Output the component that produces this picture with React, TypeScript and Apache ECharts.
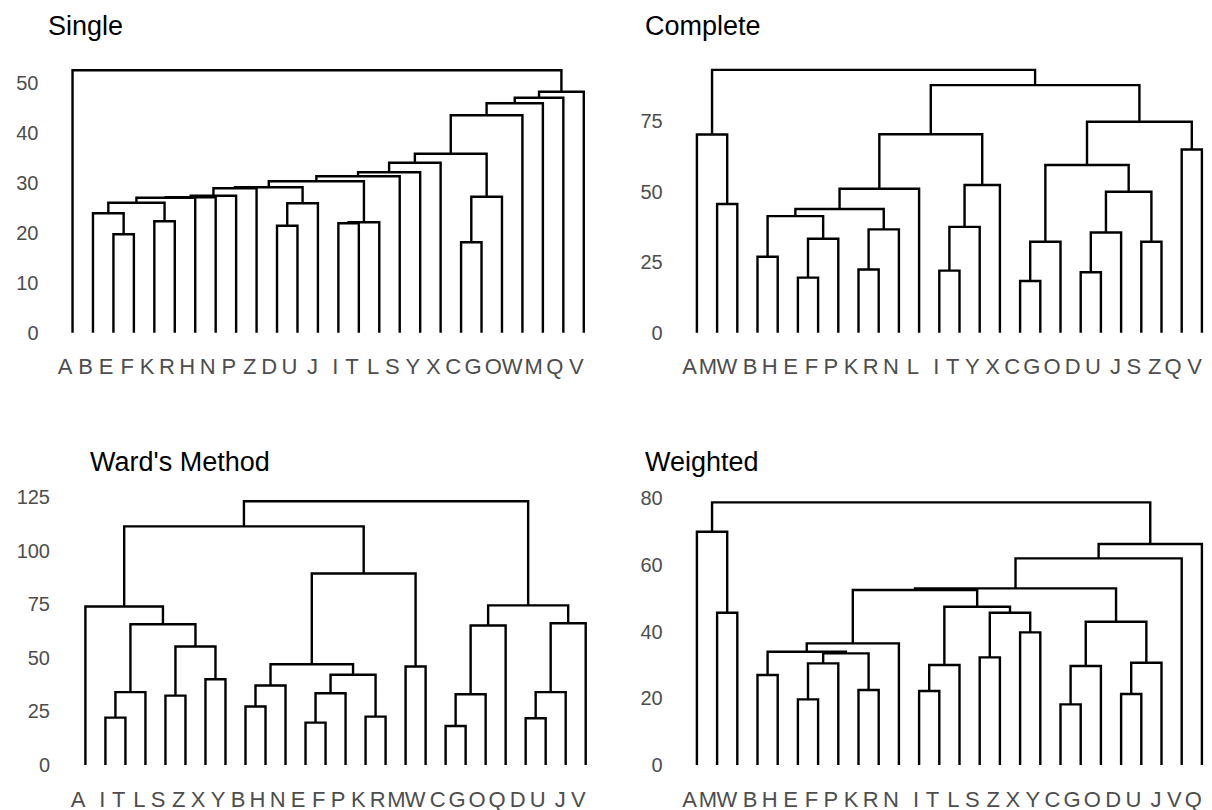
import React, { useEffect, useRef } from "react";
import * as echarts from "echarts";

// A merge joins two children at a height. A child is a leaf label (string)
// or the index of an earlier merge in the same list (number).
type Child = string | number;
type Merge = [Child, Child, number];

const singleLeaves = ["A", "B", "E", "F", "K", "R", "H", "N", "P", "Z", "D", "U", "J", "I", "T", "L", "S", "Y", "X", "C", "G", "O", "W", "M", "Q", "V"];
const singleMerges: Merge[] = [
  ["E", "F", 19.7], ["B", 0, 23.9], ["K", "R", 22.3], [1, 2, 26.0], [3, "H", 27.0],
  [4, "N", 27.1], [5, "P", 27.4], [6, "Z", 28.9], ["D", "U", 21.4], [8, "J", 25.9],
  [7, 9, 29.1], ["I", "T", 21.9], [11, "L", 22.1], [10, 12, 30.3], [13, "S", 31.3],
  [14, "Y", 32.1], [15, "X", 34.0], ["C", "G", 18.1], [17, "O", 27.2], [16, 18, 35.8],
  [19, "W", 43.5], [20, "M", 45.9], [21, "Q", 47.0], [22, "V", 48.2], ["A", 23, 52.5],
];

const completeLeaves = ["A", "M", "W", "B", "H", "E", "F", "P", "K", "R", "N", "L", "I", "T", "Y", "X", "C", "G", "O", "D", "U", "J", "S", "Z", "Q", "V"];
const completeMerges: Merge[] = [
  ["M", "W", 45.6], ["A", 0, 70.2], ["B", "H", 26.9], ["E", "F", 19.5], [3, "P", 33.3],
  [2, 4, 41.3], ["K", "R", 22.4], [6, "N", 36.6], [5, 7, 43.8], [8, "L", 51.0],
  ["I", "T", 22.0], [10, "Y", 37.5], [11, "X", 52.3], [9, 12, 70.3], ["C", "G", 18.3],
  [14, "O", 32.2], ["D", "U", 21.4], [16, "J", 35.5], ["S", "Z", 32.2], [17, 18, 49.9],
  [15, 19, 59.4], ["Q", "V", 64.9], [20, 21, 74.7], [13, 22, 87.7], [1, 23, 93.1],
];

const wardLeaves = ["A", "I", "T", "L", "S", "Z", "X", "Y", "B", "H", "N", "E", "F", "P", "K", "R", "M", "W", "C", "G", "O", "Q", "D", "U", "J", "V"];
const wardMerges: Merge[] = [
  ["I", "T", 22.1], [0, "L", 34.0], ["S", "Z", 32.4], ["X", "Y", 40.0], [2, 3, 55.3],
  [1, 4, 65.7], ["A", 5, 74.0], ["B", "H", 27.3], [7, "N", 37.1], ["E", "F", 19.8],
  [9, "P", 33.5], ["K", "R", 22.6], [10, 11, 42.1], [8, 12, 47.0], ["M", "W", 46.0],
  [13, 14, 89.4], [6, 15, 111.4], ["C", "G", 18.2], [17, "O", 33.0], [18, "Q", 65.1],
  ["D", "U", 21.8], [20, "J", 34.0], [21, "V", 66.2], [19, 22, 74.5], [16, 23, 123.1],
];

const weightedLeaves = ["A", "M", "W", "B", "H", "E", "F", "P", "K", "R", "N", "I", "T", "L", "S", "Z", "X", "Y", "C", "G", "O", "D", "U", "J", "V", "Q"];
const weightedMerges: Merge[] = [
  ["M", "W", 45.7], ["A", 0, 70.0], ["B", "H", 27.0], ["E", "F", 19.7], [3, "P", 30.5],
  ["K", "R", 22.5], [4, 5, 33.5], [2, 6, 34.0], [7, "N", 36.5], ["I", "T", 22.2],
  [9, "L", 30.0], ["S", "Z", 32.3], ["X", "Y", 39.8], [11, 12, 45.7], [10, 13, 47.5],
  [8, 14, 52.5], ["C", "G", 18.2], [16, "O", 29.7], ["D", "U", 21.3], [18, "J", 30.7],
  [17, 19, 43.0], [15, 20, 53.0], [21, "V", 62.0], [22, "Q", 66.3], [1, 23, 78.8],
];

const panelTitles = ["Single", "Complete", "Ward's Method", "Weighted"];
const yMax = [55, 95, 130, 82];
const yStep = [10, 25, 25, 20];

// Turn the merge list into U-shaped links: [xLeft, hLeft, xRight, hRight, hJoin]
function buildLinks(leaves: string[], merges: Merge[]): number[][] {
  const leafIndex = new Map<string, number>(leaves.map((l, i) => [l, i]));
  const nodeX: number[] = [];
  const nodeH: number[] = [];
  const locate = (c: Child): [number, number] =>
    typeof c === "number" ? [nodeX[c], nodeH[c]] : [leafIndex.get(c) as number, 0];
  return merges.map(([a, b, h], k) => {
    const [xa, ha] = locate(a);
    const [xb, hb] = locate(b);
    nodeX[k] = (xa + xb) / 2;
    nodeH[k] = h;
    return [xa, ha, xb, hb, h];
  });
}

const FONT = "'Liberation Sans', Arial, sans-serif";
const TICK_COLOR = "#4D4D4D";

// Plot areas (pixels): left, width, bottom baseline, height
const grids = [
  { left: 62.3, width: 531.7, bottom: 332.7, height: 275 },
  { left: 686.8, width: 532.3, bottom: 332.7, height: 268.2 },
  { left: 75.4, width: 520.3, bottom: 765, height: 278.5 },
  { left: 686.8, width: 532.3, bottom: 765, height: 273.3 },
];
const titlePos = [
  { left: 48, top: 12 },
  { left: 645, top: 12 },
  { left: 90, top: 448 },
  { left: 645, top: 448 },
];
const labelMargin = [23.8, 24.1, 25.4, 24.1];

export default function App() {
  const ref = useRef<HTMLDivElement>(null);

  useEffect(() => {
    if (!ref.current) return;
    const chart = echarts.init(ref.current, undefined, { renderer: "svg" });
    const panels = [
      { leaves: singleLeaves, merges: singleMerges },
      { leaves: completeLeaves, merges: completeMerges },
      { leaves: wardLeaves, merges: wardMerges },
      { leaves: weightedLeaves, merges: weightedMerges },
    ];

    const option: any = {
      animation: false,
      backgroundColor: "#ffffff",
      title: panelTitles.map((t, i) => ({
        text: t,
        left: titlePos[i].left,
        top: titlePos[i].top,
        padding: 0,
        textStyle: { fontFamily: FONT, fontSize: 27, fontWeight: "normal", color: "#000000" },
      })),
      grid: grids.map((g) => ({
        left: g.left,
        width: g.width,
        top: g.bottom - g.height,
        height: g.height,
        containLabel: false,
      })),
      xAxis: panels.flatMap((p, i) => [
        {
          type: "category",
          gridIndex: i,
          data: p.leaves,
          boundaryGap: true,
          axisLine: { show: false },
          axisTick: { show: false },
          splitLine: { show: false },
          axisLabel: {
            interval: 0,
            align: "right",
            margin: 23,
            fontSize: 22,
            color: TICK_COLOR,
            fontFamily: FONT,
          },
        },
        {
          type: "value",
          gridIndex: i,
          min: -0.5,
          max: p.leaves.length - 0.5,
          show: false,
          splitLine: { show: false },
        },
      ]),
      yAxis: panels.map((_, i) => ({
        type: "value",
        gridIndex: i,
        min: 0,
        max: yMax[i],
        interval: yStep[i],
        axisLine: { show: false },
        axisTick: { show: false },
        splitLine: { show: false },
        axisLabel: {
          margin: labelMargin[i],
          fontSize: 20,
          color: TICK_COLOR,
          fontFamily: FONT,
          formatter: (v: number) => (v % yStep[i] === 0 ? String(v) : ""),
        },
      })),
      series: panels.map((p, i) => ({
        type: "custom",
        xAxisIndex: i * 2 + 1,
        yAxisIndex: i,
        silent: true,
        clip: false,
        data: buildLinks(p.leaves, p.merges),
        encode: { x: [0, 2], y: [1, 3, 4] },
        renderItem: (_params: any, api: any) => {
          const xl = api.value(0);
          const hl = api.value(1);
          const xr = api.value(2);
          const hr = api.value(3);
          const h = api.value(4);
          return {
            type: "polyline",
            shape: {
              points: [
                api.coord([xl, hl]),
                api.coord([xl, h]),
                api.coord([xr, h]),
                api.coord([xr, hr]),
              ],
            },
            style: { stroke: "#000000", lineWidth: 2.4, fill: null, lineJoin: "miter" },
          };
        },
      })),
    };

    chart.setOption(option);
    return () => chart.dispose();
  }, []);

  return (
    <div
      ref={ref}
      style={{ position: "absolute", left: 0, top: 0, width: 1212, height: 810, background: "#fff" }}
    />
  );
}
